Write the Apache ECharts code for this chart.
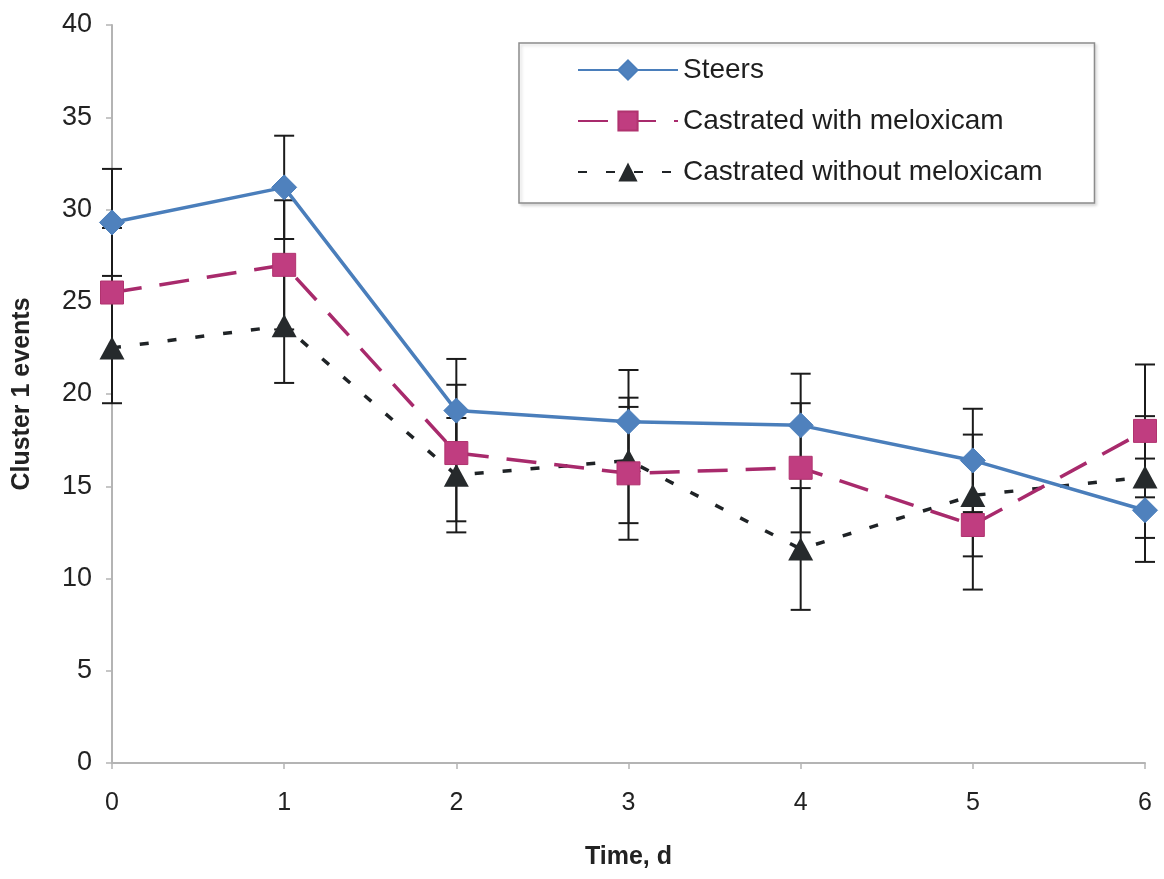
<!DOCTYPE html>
<html>
<head>
<meta charset="utf-8">
<title>Cluster 1 events over time</title>
<script src="https://cdn.jsdelivr.net/npm/echarts@6/dist/echarts.min.js"></script>
<style>
  html, body { margin: 0; padding: 0; background: #ffffff; }
  #chart { width: 1164px; height: 879px; }
</style>
</head>
<body>
<div id="chart"></div>
<script>
// Days after treatment
const days = [0, 1, 2, 3, 4, 5, 6];

// Group labels
const seriesNames = ['Steers', 'Castrated with meloxicam', 'Castrated without meloxicam'];

// Mean number of cluster 1 events per day
const steersMean = [29.3, 31.2, 19.1, 18.5, 18.3, 16.4, 13.7];
const meloxMean = [25.5, 27.0, 16.8, 15.7, 16.0, 12.9, 18.0];
const noMeloxMean = [22.5, 23.7, 15.6, 16.4, 11.6, 14.5, 15.5];

// Standard errors (drawn as symmetric error bars)
const steersSE = [2.9, 2.8, 2.8, 2.8, 2.8, 2.8, 2.8];
const meloxSE = [3.5, 3.5, 3.7, 3.6, 3.5, 3.5, 3.6];
const noMeloxSE = [3.0, 3.1, 3.1, 3.4, 3.3, 3.3, 3.3];

// Y-axis tick settings
const yMin = 0, yMax = 40, yStep = 5;

const pairs = (ys) => days.map((d, i) => [d, ys[i]]);
const errRows = (ys, se) => days.map((d, i) => [d, ys[i] - se[i], ys[i] + se[i]]);

// Vertical error bar with end caps
function errorBar(params, api) {
  const x = api.value(0);
  const lo = api.coord([x, api.value(1)]);
  const hi = api.coord([x, api.value(2)]);
  const half = 10;
  const style = { stroke: '#1b1b1b', lineWidth: 2 };
  return {
    type: 'group',
    children: [
      { type: 'line', shape: { x1: hi[0], y1: hi[1], x2: lo[0], y2: lo[1] }, style },
      { type: 'line', shape: { x1: hi[0] - half, y1: hi[1], x2: hi[0] + half, y2: hi[1] }, style },
      { type: 'line', shape: { x1: lo[0] - half, y1: lo[1], x2: lo[0] + half, y2: lo[1] }, style }
    ]
  };
}

const chart = echarts.init(document.getElementById('chart'), null, { renderer: 'canvas' });

const fontMain = 'Liberation Sans, Arial, Helvetica, sans-serif';

chart.setOption({
  backgroundColor: '#ffffff',
  animation: false,
  grid: { left: 112, right: 19, top: 25, bottom: 116, containLabel: false },
  legend: {
    orient: 'vertical',
    left: 519,
    top: 43,
    data: seriesNames,
    itemWidth: 100,
    itemHeight: 24,
    itemGap: 23,
    padding: [13, 52, 17, 58],
    borderColor: '#8c8c8c',
    borderWidth: 1.5,
    backgroundColor: '#ffffff',
    shadowColor: 'rgba(0,0,0,0.15)',
    shadowBlur: 3,
    shadowOffsetX: 2,
    shadowOffsetY: 2,
    textStyle: { fontFamily: fontMain, fontSize: 28, color: '#1e1e1e', lineHeight: 28 }
  },
  xAxis: {
    type: 'value',
    min: 0,
    max: 6,
    interval: 1,
    name: 'Time, d',
    nameLocation: 'middle',
    nameGap: 82,
    nameTextStyle: { fontFamily: fontMain, fontSize: 25, fontWeight: 'bold', color: '#222' },
    axisLine: { lineStyle: { color: '#b4b4b4', width: 2 } },
    axisTick: { show: true, length: 6, lineStyle: { color: '#b4b4b4', width: 1.5 } },
    axisLabel: { fontFamily: fontMain, fontSize: 25, color: '#222', margin: 28 },
    splitLine: { show: false }
  },
  yAxis: {
    type: 'value',
    min: yMin,
    max: yMax,
    interval: yStep,
    name: 'Cluster 1 events',
    nameLocation: 'middle',
    nameGap: 77,
    nameRotate: 90,
    nameTextStyle: { fontFamily: fontMain, fontSize: 25, fontWeight: 'bold', color: '#222' },
    axisLine: { show: true, lineStyle: { color: '#b4b4b4', width: 2 } },
    axisTick: { show: true, length: 6, lineStyle: { color: '#b4b4b4', width: 1.5 } },
    axisLabel: { fontFamily: fontMain, fontSize: 27, color: '#222', margin: 20 },
    splitLine: { show: false }
  },
  series: [
    {
      type: 'custom',
      name: 'err-steers',
      renderItem: errorBar,
      data: errRows(steersMean, steersSE),
      encode: { x: 0, y: [1, 2] },
      z: 1,
      silent: true
    },
    {
      type: 'custom',
      name: 'err-melox',
      renderItem: errorBar,
      data: errRows(meloxMean, meloxSE),
      encode: { x: 0, y: [1, 2] },
      z: 1,
      silent: true
    },
    {
      type: 'custom',
      name: 'err-nomelox',
      renderItem: errorBar,
      data: errRows(noMeloxMean, noMeloxSE),
      encode: { x: 0, y: [1, 2] },
      z: 1,
      silent: true
    },
    {
      type: 'line',
      name: seriesNames[2],
      data: pairs(noMeloxMean),
      symbol: 'triangle',
      symbolSize: [25, 23],
      lineStyle: { color: '#1f2326', width: 3.5, type: [9, 19] },
      itemStyle: { color: '#262a2c', borderColor: '#262a2c', borderWidth: 0 },
      z: 3
    },
    {
      type: 'line',
      name: seriesNames[1],
      data: pairs(meloxMean),
      symbol: 'rect',
      symbolSize: 23,
      lineStyle: { color: '#a82a6c', width: 3.5, type: [30, 18] },
      itemStyle: { color: '#c03d80', borderColor: '#b0336f', borderWidth: 1 },
      z: 4
    },
    {
      type: 'line',
      name: seriesNames[0],
      data: pairs(steersMean),
      symbol: 'diamond',
      symbolSize: 25,
      lineStyle: { color: '#4a7ebb', width: 3.5 },
      itemStyle: { color: '#4f81bd', borderColor: '#4a7ebb', borderWidth: 1 },
      z: 5
    }
  ]
});
</script>
</body>
</html>
